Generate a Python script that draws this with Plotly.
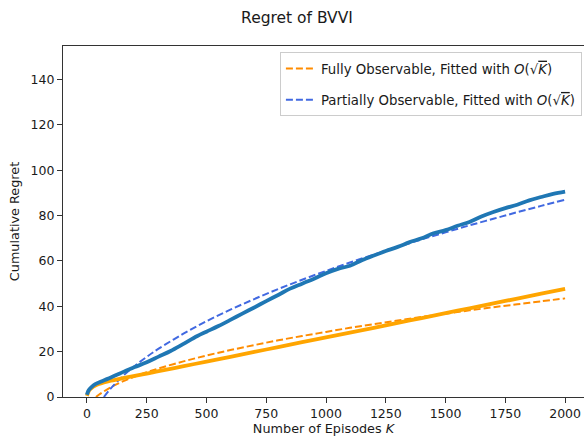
import plotly.graph_objects as go

# ---- data ----
k_full = [0, 5, 10, 20, 35, 50, 75, 100, 150, 200, 250, 300, 400, 500, 600, 700, 800,
          900, 1000, 1100, 1200, 1300, 1400, 1500, 1600, 1700, 1800, 1900, 2000]
regret_full = [0.5, 2.0, 3.0, 4.0, 5.0, 5.7, 6.5, 7.2, 8.3, 9.3, 10.3, 11.4, 13.5, 15.6,
               17.7, 19.9, 22.0, 24.2, 26.3, 28.4, 30.5, 32.7, 34.8, 37.0, 39.1, 41.3,
               43.4, 45.6, 47.7]

k_part = [0, 5, 10, 20, 35, 50, 75, 100, 130, 163, 200, 250, 300, 350, 400, 462, 500,
          550, 600, 650, 700, 750, 800, 850, 900, 950, 1000, 1050, 1100, 1150, 1200,
          1250, 1300, 1350, 1400, 1450, 1500, 1550, 1600, 1650, 1700, 1750, 1800, 1850,
          1900, 1950, 2000]
regret_part = [1.0, 2.5, 3.4, 4.5, 5.7, 6.4, 7.5, 8.6, 10.0, 11.6, 13.2, 15.3, 17.8, 20.3,
               23.2, 26.9, 28.8, 31.3, 34.0, 36.8, 39.5, 42.3, 45.0, 47.8, 50.0, 52.2,
               54.6, 56.5, 57.9, 60.3, 62.4, 64.4, 66.2, 68.3, 70.0, 72.2, 73.6, 75.5,
               77.2, 79.6, 81.6, 83.3, 84.8, 86.7, 88.2, 89.6, 90.6]

k_fit = [38, 50, 100, 150, 200, 250, 300, 400, 500, 600, 700, 800, 900, 1000, 1100,
         1200, 1300, 1400, 1500, 1600, 1700, 1800, 1900, 2000]
fit_full = [0.0, 1.0, 4.3, 6.9, 9.0, 10.9, 12.6, 15.6, 18.3, 20.7, 22.9, 25.0, 26.9,
            28.7, 30.5, 32.1, 33.7, 35.3, 36.7, 38.2, 39.6, 40.9, 42.2, 43.5]

k_fit2 = [71, 100, 150, 200, 250, 300, 400, 500, 600, 700, 800, 900, 1000, 1100, 1200,
          1300, 1400, 1500, 1600, 1700, 1800, 1900, 2000]
fit_part = [0.0, 3.8, 9.2, 13.7, 17.7, 21.3, 27.7, 33.4, 38.5, 43.2, 47.6, 51.7, 55.6,
            59.3, 62.8, 66.2, 69.5, 72.6, 75.7, 78.6, 81.5, 84.3, 87.0]

x_ticks = [0, 250, 500, 750, 1000, 1250, 1500, 1750, 2000]
y_ticks = [0, 20, 40, 60, 80, 100, 120, 140]

name_full = "Fully Observable, Fitted with <i>O</i>(√<span style='text-decoration:overline'><i>K</i></span>)"
name_part = "Partially Observable, Fitted with <i>O</i>(√<span style='text-decoration:overline'><i>K</i></span>)"

FONT = "DejaVu Sans"
TXT = "#1a1a1a"

fig = go.Figure()
fig.add_trace(go.Scatter(x=k_fit, y=fit_full, mode="lines", name=name_full, legendgroup="a",
                         line=dict(color="#ff8c00", width=2, dash="7px,3px", shape="spline")))
fig.add_trace(go.Scatter(x=k_fit2, y=fit_part, mode="lines", name=name_part, legendgroup="b",
                         line=dict(color="#4169e1", width=2, dash="7px,3px", shape="spline")))
fig.add_trace(go.Scatter(x=k_full, y=regret_full, mode="lines", showlegend=False,
                         line=dict(color="#ffa500", width=3.8, shape="spline")))
fig.add_trace(go.Scatter(x=k_part, y=regret_part, mode="lines", showlegend=False,
                         line=dict(color="#1f77b4", width=3.8, shape="spline")))

fig.update_layout(
    width=584, height=439,
    margin=dict(l=63, r=0, t=46, b=42),
    paper_bgcolor="white", plot_bgcolor="white",
    font=dict(family=FONT, size=12.5, color=TXT),
    title=dict(text="Regret of BVVI", x=297 / 584, xanchor="center", xref="container",
               y=1 - 18 / 439, yanchor="middle", yref="container",
               font=dict(family=FONT, size=15.5, color=TXT)),
    xaxis=dict(range=[-100, 2079], tickmode="array", tickvals=x_ticks,
               showgrid=False, zeroline=False, showline=True, linecolor="#333",
               linewidth=1.2, mirror=True, ticks="outside", ticklen=5, tickcolor="#333",
               title=dict(text="Number of Episodes <i>K</i>", standoff=3,
                          font=dict(size=12.8))),
    yaxis=dict(range=[0, 154.8], tickmode="array", tickvals=y_ticks,
               showgrid=False, zeroline=False, showline=True, linecolor="#333",
               linewidth=1.2, mirror=False, ticks="outside", ticklen=5, tickcolor="#333",
               title=dict(text="Cumulative Regret", standoff=8, font=dict(size=12.8))),
    legend=dict(x=0.996, xanchor="right", y=0.982, yanchor="top",
                bgcolor="white", bordercolor="#cccccc", borderwidth=1,
                font=dict(size=13.3, color=TXT), traceorder="grouped", tracegroupgap=11),
    showlegend=True,
)

fig.write_html("out.html")
